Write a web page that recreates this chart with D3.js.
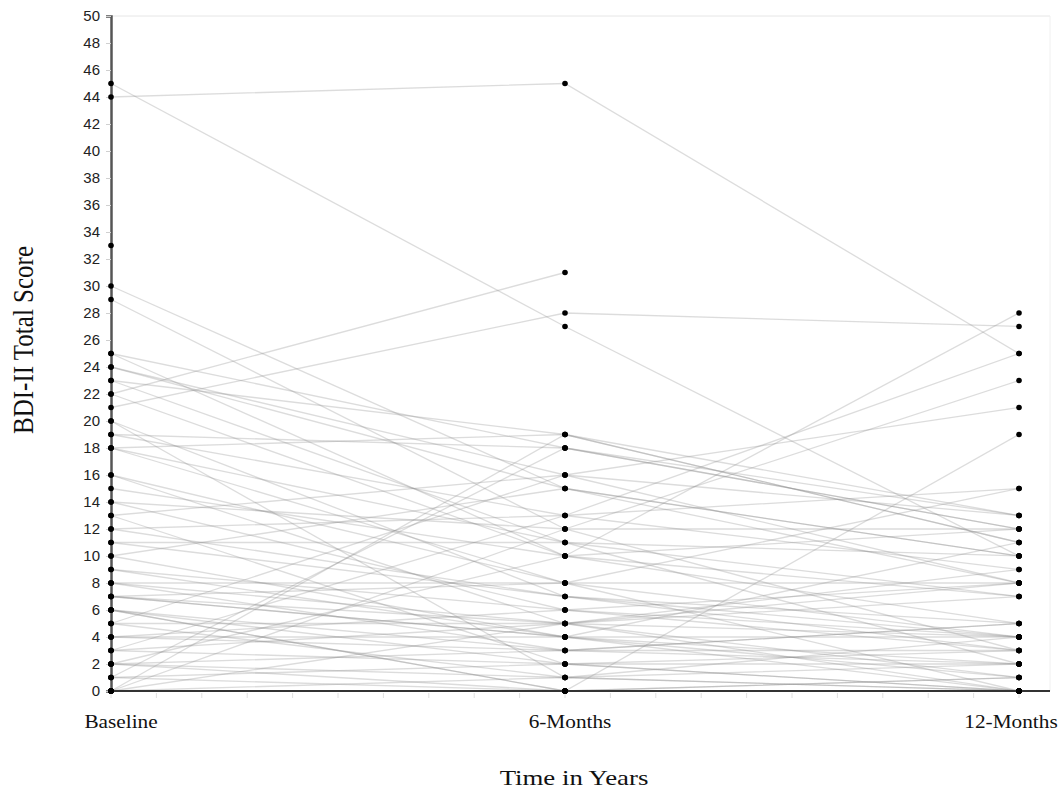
<!DOCTYPE html>
<html>
<head>
<meta charset="utf-8">
<script src="https://cdn.jsdelivr.net/npm/d3@7"></script>
<style>
  body { margin: 0; background: #fff; }
  svg { display: block; }
</style>
</head>
<body>
<div id="chart"></div>
<script>
// time points and tick labels
const timePoints = ["Baseline", "6-Months", "12-Months"];
const yTicks = d3.range(0, 51, 2);

// one entry per subject, same order in each array (null = missing)
const baseline = [45, 44, 33, 30, 29, 25, 24, 23, 22, 21, 20, 22, 19, 18, 18, 18, 16, 15, 14, 13,
  12, 11, 10, 10, 9, 8, 8, 7, 7, 6, 6, 5, 4, 4, 3, 2, 1, 0, 0, 0,
  0, 1, 2, 3, 0, 5, 6, 7, 8, 4, 3, 2, 1, 0, 12, 11, 13, 14, 16, 20,
  23, 24, 25, 19, 9, 5, 6, 7, 0, 2];
const sixMonths = [27, 45, null, 15, 12, 18, 16, 19, 31, 28, 1, 10, 13, 19, 8, 11, 5, 10, 12, 16,
  13, 7, 15, 4, 6, 8, 3, 4, 5, 0, 2, 5, 3, 6, 5, 1, 18, 19, 0, 0,
  1, 2, 10, 13, 12, 16, 0, 8, 5, 4, 2, 3, 0, 5, 7, 11, 2, 6, 8, 7,
  11, 15, 10, 18, 4, 1, 3, 4, 0, 0];
const twelveMonths = [10, 25, null, 8, 3, 12, 13, 11, null, 27, 0, 5, 9, 13, 4, 2, 0, 7, 12, 8,
  15, 3, 10, 1, 8, 8, 5, 2, 8, 0, 0, 4, 3, 4, 1, 4, 12, 11, 0, 0,
  0, 2, 28, 25, 23, 21, 19, 15, 7, 4, 3, 2, 1, 9, 5, 10, 0, 3, 0, 4,
  7, 10, 12, 13, 11, 2, 5, 0, 1, 0];

const subjects = baseline.map((b, i) => [b, sixMonths[i], twelveMonths[i]]);

const W = 1062, H = 792;
const margin = { top: 16, right: 43, bottom: 101, left: 111 };
const serif = "'Liberation Serif', 'Times New Roman', serif";

const svg = d3.select("#chart").append("svg")
  .attr("width", W).attr("height", H);

const x = d3.scalePoint()
  .domain(timePoints)
  .range([margin.left, W - margin.right]);

const y = d3.scaleLinear()
  .domain([0, 50])
  .range([H - margin.bottom, margin.top]);

// faint frame: top line and right edge
svg.append("line")
  .attr("x1", x("Baseline")).attr("x2", W - 12)
  .attr("y1", y(50)).attr("y2", y(50))
  .attr("stroke", "#e6e6e6").attr("stroke-width", 1);
svg.append("line")
  .attr("x1", W - 12).attr("x2", W - 12)
  .attr("y1", y(50)).attr("y2", y(0))
  .attr("stroke", "#f0f0f0").attr("stroke-width", 1);

// minor ticks under the x axis
const span = x("12-Months") - x("Baseline");
svg.append("g").selectAll("line")
  .data(d3.range(0, 21))
  .join("line")
  .attr("x1", d => x("Baseline") + d * span / 20)
  .attr("x2", d => x("Baseline") + d * span / 20)
  .attr("y1", y(0) + 2).attr("y2", y(0) + 7)
  .attr("stroke", "#e0e0e0");

// subject trajectories
const line = d3.line()
  .defined(d => d.v != null)
  .x(d => x(d.t))
  .y(d => y(d.v));

svg.append("g")
  .selectAll("path")
  .data(subjects)
  .join("path")
  .attr("d", s => line(s.map((v, i) => ({ t: timePoints[i], v }))))
  .attr("fill", "none")
  .attr("stroke", "#8a8a8a")
  .attr("stroke-opacity", 0.3)
  .attr("stroke-width", 1.3);

// x axis baseline
svg.append("line")
  .attr("x1", x("Baseline")).attr("x2", W - 12)
  .attr("y1", y(0)).attr("y2", y(0))
  .attr("stroke", "#333").attr("stroke-width", 2);

// y axis
const yAxis = svg.append("g")
  .attr("transform", `translate(${x("Baseline")},0)`)
  .call(d3.axisLeft(y).tickValues(yTicks).tickSize(5).tickPadding(6));
yAxis.select(".domain").attr("stroke", "#555").attr("stroke-width", 2.5);
yAxis.selectAll(".tick line").attr("stroke", "#d0d0d0");
yAxis.selectAll(".tick text")
  .attr("fill", "#222")
  .style("font-family", "'Liberation Sans', Arial, sans-serif")
  .style("font-size", "15px");

// points
const points = [];
subjects.forEach(s => s.forEach((v, i) => { if (v != null) points.push({ t: timePoints[i], v }); }));
svg.append("g")
  .selectAll("circle")
  .data(points)
  .join("circle")
  .attr("cx", d => x(d.t))
  .attr("cy", d => y(d.v))
  .attr("r", 2.8)
  .attr("fill", "#000");

// x labels (source text is a little wider than normal Times)
const labelShift = { "Baseline": 10, "6-Months": 5, "12-Months": -8 };
svg.append("g")
  .selectAll("text")
  .data(timePoints)
  .join("text")
  .attr("transform", d => `translate(${x(d) + labelShift[d]},728) scale(1.12,1)`)
  .attr("text-anchor", "middle")
  .style("font-family", serif)
  .style("font-size", "19px")
  .attr("fill", "#111")
  .text(d => d);

svg.append("text")
  .attr("transform", "translate(574,785) scale(1.22,1)")
  .attr("text-anchor", "middle")
  .style("font-family", serif)
  .style("font-size", "22px")
  .attr("fill", "#111")
  .text("Time in Years");

svg.append("text")
  .attr("transform", "translate(33,340) scale(1.2,1) rotate(-90)")
  .attr("text-anchor", "middle")
  .style("font-family", serif)
  .style("font-size", "25px")
  .attr("fill", "#111")
  .text("BDI-II Total Score");
</script>
</body>
</html>
